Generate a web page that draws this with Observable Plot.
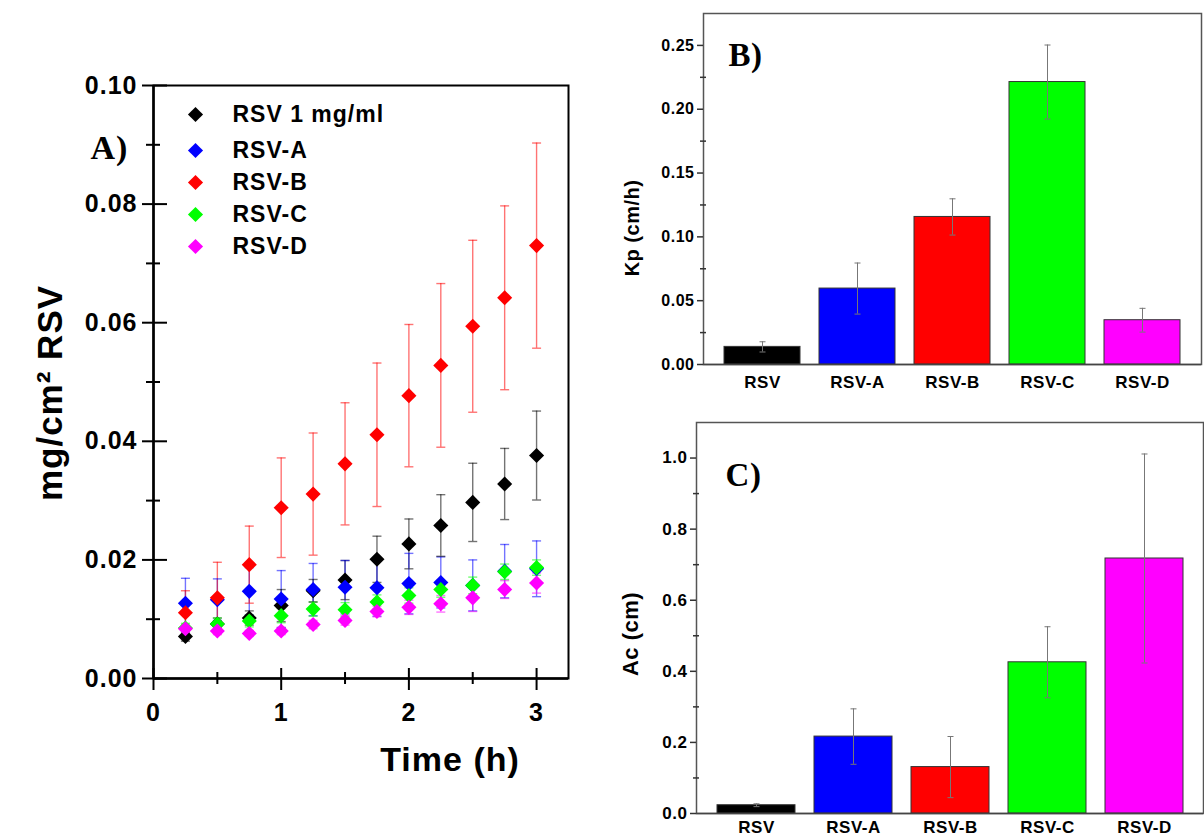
<!DOCTYPE html>
<html><head><meta charset="utf-8">
<script src="https://cdn.jsdelivr.net/npm/d3@7"></script>
<script src="https://cdn.jsdelivr.net/npm/@observablehq/plot@0.6"></script>
<style>
body{margin:0;background:#fff;}
#wrap{position:relative;width:1204px;height:840px;overflow:hidden;background:#fff;}
.panel{position:absolute;}
</style></head>
<body><div id="wrap"></div>
<script>
// ---------- Panel A data ----------
const times = [0.25,0.5,0.75,1,1.25,1.5,1.75,2,2.25,2.5,2.75,3];
const seriesNames = ["RSV 1 mg/ml","RSV-A","RSV-B","RSV-C","RSV-D"];
const seriesColors = ["#000000","#0000ff","#ff0000","#00ff00","#ff00ff"];
const rsv1Mean = [0.0071,0.0092,0.0102,0.0123,0.0148,0.0166,0.0201,0.0227,0.0258,0.0297,0.0328,0.0376];
const rsv1Err  = [0.0008,0.0010,0.0012,0.0027,0.0019,0.0033,0.0039,0.0042,0.0052,0.0066,0.0060,0.0075];
const rsvAMean = [0.0127,0.0133,0.0147,0.0134,0.0150,0.0154,0.0153,0.0160,0.0162,0.0157,0.0181,0.0185];
const rsvAErr  = [0.0042,0.0035,0.0040,0.0048,0.0044,0.0045,0.0048,0.0051,0.0043,0.0043,0.0045,0.0047];
const rsvBMean = [0.0111,0.0136,0.0192,0.0288,0.0311,0.0362,0.0411,0.0477,0.0528,0.0594,0.0642,0.0730];
const rsvBErr  = [0.0037,0.0060,0.0065,0.0084,0.0103,0.0103,0.0121,0.0120,0.0138,0.0145,0.0155,0.0173];
const rsvCMean = [0.0085,0.0092,0.0097,0.0106,0.0117,0.0116,0.0129,0.0140,0.0150,0.0157,0.0180,0.0187];
const rsvCErr  = [0.0008,0.0010,0.0010,0.0012,0.0012,0.0012,0.0012,0.0013,0.0013,0.0014,0.0013,0.0013];
const rsvDMean = [0.0084,0.0080,0.0076,0.0080,0.0091,0.0098,0.0113,0.0120,0.0126,0.0136,0.0150,0.0161];
const rsvDErr  = [0.0006,0.0006,0.0005,0.0006,0.0007,0.0008,0.0009,0.0012,0.0014,0.0023,0.0015,0.0017];
const yTicksA = [0,0.02,0.04,0.06,0.08,0.10];
const yMinorA = [0.01,0.03,0.05,0.07,0.09];
const xTicksA = [0,1,2,3];
const xMinorA = [0.5,1.5,2.5];

// ---------- Panels B, C data ----------
const formulations = ["RSV","RSV-A","RSV-B","RSV-C","RSV-D"];
const barColors = ["#000000","#0000ff","#ff0000","#00ff00","#ff00ff"];
const kpMean = [0.0138,0.0595,0.1156,0.2213,0.0347];
const kpErr  = [0.004,0.020,0.0142,0.029,0.0093];
const acMean = [0.0233,0.2164,0.1306,0.4254,0.7174];
const acErr  = [0.004,0.078,0.086,0.100,0.294];
const yTicksB = [0,0.05,0.10,0.15,0.20,0.25];
const yMinorB = [0.025,0.075,0.125,0.175,0.225];
const yTicksC = [0,0.2,0.4,0.6,0.8,1.0];
const yMinorC = [0.1,0.3,0.5,0.7,0.9];

const means = [rsv1Mean,rsvAMean,rsvBMean,rsvCMean,rsvDMean];
const errs = [rsv1Err,rsvAErr,rsvBErr,rsvCErr,rsvDErr];
const rowsA = seriesNames.flatMap((s,i)=>times.map((t,j)=>({series:s,t,v:means[i][j],e:errs[i][j]})));
const rowsB = formulations.map((f,i)=>({name:f,v:kpMean[i],e:kpErr[i]}));
const rowsC = formulations.map((f,i)=>({name:f,v:acMean[i],e:acErr[i]}));

const cap = w => ({draw(ctx){ctx.moveTo(-w,0);ctx.lineTo(w,0);}});
const blank = () => "";
const sans = "Liberation Sans, Arial, sans-serif";
const serif = "Liberation Serif, Times New Roman, serif";

// ---------- Panel A ----------
const legendDy = [29,65,97,129,161];
const A = Plot.plot({
  width:600,height:800,marginLeft:153,marginRight:32,marginTop:85,marginBottom:122,
  style:{fontFamily:sans,fontWeight:"bold",color:"#000",background:"transparent",letterSpacing:"1px"},
  x:{domain:[0,3.25],label:null},
  y:{domain:[0,0.1],label:null},
  color:{domain:seriesNames,range:seriesColors},
  marks:[
    Plot.frame({stroke:"#000",strokeWidth:2}),
    Plot.axisY({ticks:yTicksA,tickSize:11,tickPadding:5,tickFormat:d3.format(".2f"),fontSize:25,strokeWidth:2,label:null}),
    Plot.axisY({ticks:yTicksA,tickSize:-14,tickFormat:blank,strokeWidth:2,label:null}),
    Plot.axisY({ticks:yMinorA,tickSize:7,tickFormat:blank,strokeWidth:2,label:null}),
    Plot.axisY({ticks:yMinorA,tickSize:-7,tickFormat:blank,strokeWidth:2,label:null}),
    Plot.axisX({ticks:xTicksA,tickSize:12,tickPadding:13,tickFormat:d3.format("d"),fontSize:25,strokeWidth:2,label:null}),
    Plot.axisX({ticks:xTicksA,tickSize:-10,tickFormat:blank,strokeWidth:2,label:null}),
    Plot.axisX({ticks:xMinorA,tickSize:6,tickFormat:blank,strokeWidth:2,label:null}),
    Plot.axisX({ticks:xMinorA,tickSize:-6,tickFormat:blank,strokeWidth:2,label:null}),
    Plot.ruleY([0],{stroke:"#000",strokeWidth:2.5}),
    Plot.ruleX([0],{stroke:"#000",strokeWidth:2.5}),
    Plot.ruleX(rowsA,{x:"t",y1:d=>d.v-d.e,y2:d=>d.v+d.e,stroke:"series",strokeOpacity:0.55,strokeWidth:1.4}),
    Plot.dot(rowsA,{x:"t",y:d=>d.v+d.e,symbol:cap(4.5),fill:"none",stroke:"series",strokeOpacity:0.55,strokeWidth:1.4}),
    Plot.dot(rowsA,{x:"t",y:d=>d.v-d.e,symbol:cap(4.5),fill:"none",stroke:"series",strokeOpacity:0.55,strokeWidth:1.4}),
    Plot.dot(rowsA,{x:"t",y:"v",symbol:"diamond2",r:6.8,fill:"series",stroke:null}),
    ...seriesNames.map((s,i)=>Plot.dot([s],{frameAnchor:"top-left",dx:42,dy:legendDy[i],symbol:"diamond2",r:6.8,fill:seriesColors[i]})),
    ...seriesNames.map((s,i)=>Plot.text([s],{text:d=>d,frameAnchor:"top-left",dx:79,dy:legendDy[i],textAnchor:"start",lineAnchor:"middle",fontSize:23,fontWeight:"bold"})),
    Plot.text(["A)"],{text:d=>d,frameAnchor:"top-left",dx:-44,dy:63,fontFamily:serif,fontSize:34,fontWeight:"bold",textAnchor:"middle",lineAnchor:"middle"}),
    Plot.text(["mg/cm² RSV"],{text:d=>d,frameAnchor:"left",dx:-103,dy:11,rotate:-90,fontSize:35,fontWeight:"bold",textAnchor:"middle",lineAnchor:"middle"}),
    Plot.text(["Time (h)"],{text:d=>d,frameAnchor:"bottom",dx:89,dy:82,fontSize:34,fontWeight:"bold",textAnchor:"middle",lineAnchor:"middle"})
  ]
});

// ---------- Bar panel factory ----------
function barPanel(rows, {domain, ticks, minor, fmt, margins, tickFont, xPad, title, titleDx, titleDy, titleSize, tag, tagDx, tagDy}) {
  return Plot.plot({
    width:604,height:margins.h,marginLeft:margins.l,marginRight:margins.r,marginTop:margins.t,marginBottom:margins.b,
    style:{fontFamily:sans,fontWeight:"bold",color:"#000",background:"transparent",letterSpacing:"0.5px"},
    x:{domain:formulations,padding:0.2,label:null},
    y:{domain,label:null},
    color:{domain:formulations,range:barColors},
    marks:[
      Plot.frame({stroke:"#555",strokeWidth:1.5}),
      Plot.axisY({ticks,tickSize:6,tickPadding:3,tickFormat:d3.format(fmt),fontSize:tickFont,stroke:"#333",strokeWidth:1.5,label:null}),
      Plot.axisY({ticks:minor,tickSize:3,tickFormat:blank,stroke:"#333",strokeWidth:1.5,label:null}),
      Plot.axisY({ticks:minor,tickSize:-3,tickFormat:blank,stroke:"#333",strokeWidth:1.5,label:null}),
      Plot.axisX({tickSize:0,tickPadding:xPad,fontSize:17,label:null}),
      Plot.barY(rows,{x:"name",y:"v",fill:"name",stroke:"#333",strokeWidth:1}),
      Plot.ruleY([0],{stroke:"#444",strokeWidth:1.5}),
      Plot.ruleX(rows,{x:"name",y1:d=>d.v-d.e,y2:d=>d.v+d.e,stroke:"#777",strokeWidth:1}),
      Plot.dot(rows,{x:"name",y:d=>d.v+d.e,symbol:cap(3),fill:"none",stroke:"#777",strokeWidth:1}),
      Plot.dot(rows,{x:"name",y:d=>d.v-d.e,symbol:cap(3),fill:"none",stroke:"#777",strokeWidth:1}),
      Plot.text([tag],{text:d=>d,frameAnchor:"top-left",dx:tagDx,dy:tagDy,fontFamily:serif,fontSize:33,fontWeight:"bold",textAnchor:"middle",lineAnchor:"middle"}),
      Plot.text([title],{text:d=>d,frameAnchor:"left",dx:titleDx,dy:titleDy,rotate:-90,fontSize:titleSize,fontWeight:"bold",textAnchor:"middle",lineAnchor:"middle"})
    ]
  });
}

const B = barPanel(rowsB,{domain:[0,0.275],ticks:yTicksB,minor:yMinorB,fmt:".2f",
  margins:{h:400,l:103,r:3,t:13,b:36},tickFont:16,xPad:11,title:"Kp (cm/h)",titleDx:-71,titleDy:39,titleSize:20,
  tag:"B)",tagDx:42,tagDy:42});
const C = barPanel(rowsC,{domain:[0,1.1],ticks:yTicksC,minor:yMinorC,fmt:".1f",
  margins:{h:440,l:96,r:1,t:22,b:27},tickFont:17,xPad:7,title:"Ac (cm)",titleDx:-66,titleDy:16,titleSize:22,
  tag:"C)",tagDx:47,tagDy:53});

const wrap = document.getElementById("wrap");
[[A,0,0],[B,600,0],[C,600,400]].forEach(([el,l,t])=>{
  el.classList.add("panel"); el.style.left=l+"px"; el.style.top=t+"px"; wrap.appendChild(el);
});
</script></body></html>
